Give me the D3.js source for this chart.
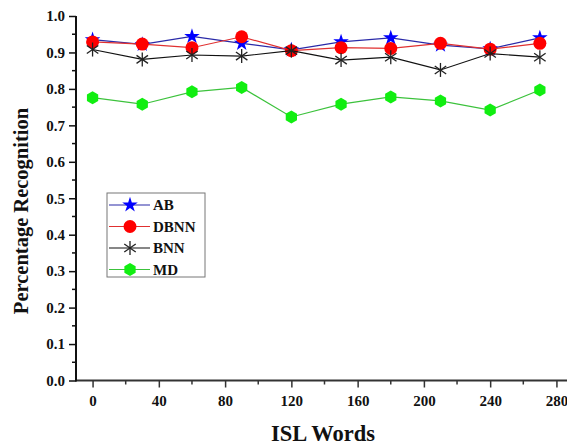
<!DOCTYPE html>
<html>
<head>
<meta charset="utf-8">
<script src="https://cdn.jsdelivr.net/npm/d3@7"></script>
<style>
  body { margin: 0; background: #fff; }
  svg { display: block; font-family: "Liberation Serif", "Times New Roman", serif; }
</style>
</head>
<body>
<svg id="chart" width="567" height="446"></svg>
<script>
// data
const words = [0, 30, 60, 90, 120, 150, 180, 210, 240, 270]
const ab   = [0.935, 0.922, 0.944, 0.925, 0.907, 0.929, 0.940, 0.920, 0.910, 0.940]
const dbnn = [0.929, 0.923, 0.913, 0.943, 0.905, 0.913, 0.911, 0.925, 0.909, 0.925]
const bnn  = [0.908, 0.881, 0.893, 0.890, 0.905, 0.879, 0.887, 0.852, 0.897, 0.887]
const md   = [0.776, 0.758, 0.792, 0.804, 0.723, 0.758, 0.778, 0.767, 0.742, 0.797]
const xTicks = [0, 40, 80, 120, 160, 200, 240, 280]
const yTicks = [0, 0.1, 0.2, 0.3, 0.4, 0.5, 0.6, 0.7, 0.8, 0.9, 1.0]

const series = [
    {name: "AB",   values: ab,   line: "#2a2aa8", fill: "#0000ff", marker: "star"},
    {name: "DBNN", values: dbnn, line: "#e03030", fill: "#ff0000", marker: "circle"},
    {name: "BNN",  values: bnn,  line: "#111111", fill: "#222222", marker: "asterisk"},
    {name: "MD",   values: md,   line: "#3cc23c", fill: "#11ee11", marker: "hexagon"}
]

const svg = d3.select("#chart")
const x = d3.scaleLinear().domain([-10, 290]).range([76, 573])
const y = d3.scaleLinear().domain([0, 1]).range([380.5, 16])

// x axis
const xAxis = svg.append("g").attr("transform", "translate(0," + y(0) + ")")
xAxis.append("line")
    .attr("x1", x(-10)).attr("x2", 567)
    .attr("stroke", "#333").attr("stroke-width", 2)
xAxis.selectAll(".minor").data(d3.range(20, 300, 40)).join("line")
    .attr("x1", d => x(d)).attr("x2", d => x(d))
    .attr("y1", 0).attr("y2", 4)
    .attr("stroke", "#333").attr("stroke-width", 1.5)
xAxis.call(d3.axisBottom(x).tickValues(xTicks).tickSize(7).tickPadding(8))
xAxis.select(".domain").remove()
xAxis.selectAll(".tick line").attr("stroke", "#333").attr("stroke-width", 1.5)
xAxis.selectAll(".tick text")
    .attr("font-family", "Liberation Serif").attr("font-size", 15)
    .attr("font-weight", "bold").attr("fill", "#111")

// y axis
const yAxis = svg.append("g").attr("transform", "translate(" + x(-10) + ",0)")
yAxis.append("line")
    .attr("y1", y(0) + 1).attr("y2", y(1))
    .attr("stroke", "#111").attr("stroke-width", 2)
yAxis.selectAll(".minor").data(d3.range(0.05, 1, 0.1)).join("line")
    .attr("y1", d => y(d)).attr("y2", d => y(d))
    .attr("x1", 0).attr("x2", -4)
    .attr("stroke", "#111").attr("stroke-width", 1.5)
yAxis.call(d3.axisLeft(y).tickValues(yTicks).tickSize(7).tickPadding(4).tickFormat(d3.format(".1f")))
yAxis.select(".domain").remove()
yAxis.selectAll(".tick line").attr("stroke", "#111").attr("stroke-width", 1.5)
yAxis.selectAll(".tick text")
    .attr("font-family", "Liberation Serif").attr("font-size", 15)
    .attr("font-weight", "bold").attr("fill", "#111")

// axis titles
svg.append("text")
    .attr("transform", "translate(28,211) rotate(-90)")
    .attr("text-anchor", "middle")
    .attr("font-size", 20.5).attr("font-weight", "bold").attr("fill", "#111")
    .text("Percentage Recognition")
svg.append("text")
    .attr("x", 323).attr("y", 441)
    .attr("text-anchor", "middle")
    .attr("font-size", 22.5).attr("font-weight", "bold").attr("fill", "#111")
    .text("ISL Words")

// marker shapes
const starPath = d3.symbol().type(d3.symbolStar).size(75)()
function drawMarker(g, s){
    if(s.marker === "star"){
        g.append("path").attr("d", starPath).attr("fill", s.fill)
    } else if(s.marker === "circle"){
        g.append("circle").attr("r", 6.5).attr("fill", s.fill)
    } else if(s.marker === "hexagon"){
        const pts = d3.range(6).map(i => {
            const a = Math.PI / 6 + i * Math.PI / 3
            return [6.5 * Math.cos(a), 6.5 * Math.sin(a)]
        })
        g.append("polygon").attr("points", pts.map(p => p.join(",")).join(" ")).attr("fill", s.fill)
    } else {
        const r = 7
        ;[90, 35, 145].forEach(deg => {
            const a = deg * Math.PI / 180
            g.append("line")
                .attr("x1", -r * Math.cos(a)).attr("y1", -r * Math.sin(a))
                .attr("x2", r * Math.cos(a)).attr("y2", r * Math.sin(a))
                .attr("stroke", s.fill).attr("stroke-width", 1.3)
        })
    }
}

// lines and markers
const line = d3.line().x(d => x(d[0])).y(d => y(d[1]))
series.forEach(s => {
    const pts = words.map((w, i) => [w, s.values[i]])
    svg.append("path")
        .attr("d", line(pts))
        .attr("fill", "none")
        .attr("stroke", s.line)
        .attr("stroke-width", 1.2)
    pts.forEach(p => {
        const g = svg.append("g").attr("transform", "translate(" + x(p[0]) + "," + y(p[1]) + ")")
        drawMarker(g, s)
    })
})

// legend
const legend = svg.append("g")
legend.append("rect")
    .attr("x", 107).attr("y", 193).attr("width", 98).attr("height", 84)
    .attr("fill", "#fff").attr("stroke", "#777").attr("stroke-width", 1)
series.forEach((s, i) => {
    const ly = 205 + i * 21.5
    legend.append("line")
        .attr("x1", 109).attr("x2", 150).attr("y1", ly).attr("y2", ly)
        .attr("stroke", s.line).attr("stroke-width", 1.2)
    drawMarker(legend.append("g").attr("transform", "translate(130," + ly + ")"), s)
    legend.append("text")
        .attr("x", 153).attr("y", ly + 5)
        .attr("font-size", 15).attr("font-weight", "bold").attr("fill", "#111")
        .text(s.name)
})
</script>
</body>
</html>
